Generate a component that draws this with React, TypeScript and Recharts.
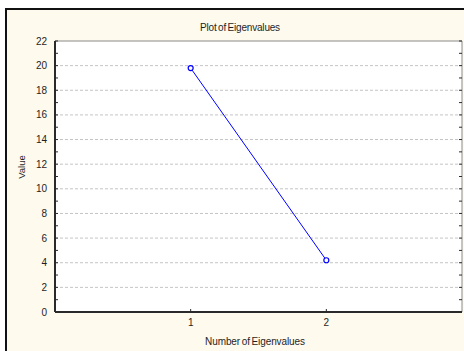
import React from 'react';
import { LineChart, Line, XAxis, YAxis, ReferenceLine, ReferenceArea } from 'recharts';

const eigenNumbers = [1, 2];
const eigenValues = [19.8, 4.2];
const xTicks = [1, 2];
const yTicks = [0, 1, 2, 3, 4, 5, 6, 7, 8, 9, 10, 11, 12, 13, 14, 15, 16, 17, 18, 19, 20, 21, 22];
const gridValues = [2, 4, 6, 8, 10, 12, 14, 16, 18, 20];
const xDomain = [0, 3];
const yDomain = [0, 22];

const data = eigenNumbers.map((n, i) => ({ n, value: eigenValues[i] }));

const FONT = '"Liberation Sans", Arial, sans-serif';
const TEXT = '#1e1e1e';
const AXIS = '#2a2a2a';

const LeftTick = (props: any) => {
  const { x, y, payload } = props;
  const v = payload.value;
  const major = v % 2 === 0;
  return (
    <g>
      <line x1={x} x2={x + 3} y1={y} y2={y} stroke={AXIS} strokeWidth={1} />
      {major && (
        <text x={x - 8} y={y} dy="0.35em" textAnchor="end" fontSize={10} fontFamily={FONT} fill={TEXT}>
          {v}
        </text>
      )}
    </g>
  );
};

const RightTick = (props: any) => {
  const { x, y } = props;
  return <line x1={x} x2={x - 3} y1={y} y2={y} stroke={AXIS} strokeWidth={1} />;
};

const BottomTick = (props: any) => {
  const { x, y, payload } = props;
  return (
    <g>
      <line x1={x} x2={x} y1={y} y2={y - 3} stroke={AXIS} strokeWidth={1} />
      <text x={x} y={y + 10} dy="0.35em" textAnchor="middle" fontSize={10} fontFamily={FONT} fill={TEXT}>
        {payload.value}
      </text>
    </g>
  );
};

const TopTick = (props: any) => {
  const { x, y } = props;
  return <line x1={x} x2={x} y1={y} y2={y + 3} stroke={AXIS} strokeWidth={1} />;
};

export default function App() {
  return (
    <div style={{ position: 'absolute', left: 0, top: 0, width: 464, height: 351, background: '#ffffff', overflow: 'hidden' }}>
      <div
        style={{
          position: 'absolute',
          left: 5,
          top: 8,
          width: 470,
          height: 360,
          background: '#fffaee',
          borderLeft: '2px solid #111',
          borderTop: '2px solid #111',
        }}
      />
      <div style={{ position: 'absolute', left: 0, top: 0 }}>
        <LineChart width={464} height={351} data={data} margin={{ top: 41, right: 0, bottom: 0, left: 0 }}>
          <XAxis
            xAxisId="b"
            dataKey="n"
            type="number"
            domain={xDomain}
            ticks={xTicks}
            interval={0}
            height={39}
            allowDataOverflow
            tickSize={0}
            tickMargin={0}
            tickLine={false}
            axisLine={{ stroke: AXIS, strokeWidth: 2 }}
            tick={<BottomTick />}
          />
          <XAxis
            xAxisId="t"
            orientation="top"
            dataKey="n"
            type="number"
            domain={xDomain}
            ticks={xTicks}
            interval={0}
            height={0}
            allowDataOverflow
            tickSize={0}
            tickMargin={0}
            tickLine={false}
            axisLine={false}
            tick={<TopTick />}
          />
          <YAxis
            yAxisId="l"
            type="number"
            domain={yDomain}
            ticks={yTicks}
            interval={0}
            width={55}
            allowDataOverflow
            tickSize={0}
            tickMargin={0}
            tickLine={false}
            axisLine={{ stroke: AXIS, strokeWidth: 2 }}
            tick={<LeftTick />}
          />
          <YAxis
            yAxisId="r"
            orientation="right"
            type="number"
            domain={yDomain}
            ticks={yTicks}
            interval={0}
            width={2}
            allowDataOverflow
            tickSize={0}
            tickMargin={0}
            tickLine={false}
            axisLine={false}
            tick={<RightTick />}
          />
          <ReferenceArea
            xAxisId="b"
            yAxisId="l"
            x1={xDomain[0]}
            x2={xDomain[1]}
            y1={yDomain[0]}
            y2={yDomain[1]}
            fill="#ffffff"
            fillOpacity={1}
            stroke="#8a8a8a"
            strokeWidth={1}
          />
          {gridValues.map((g) => (
            <ReferenceLine key={g} xAxisId="b" yAxisId="l" y={g} stroke="#c4c4c4" strokeDasharray="3 2" strokeWidth={1} />
          ))}
          <Line
            xAxisId="b"
            yAxisId="l"
            type="linear"
            dataKey="value"
            stroke="#0000ff"
            strokeWidth={1}
            dot={{ r: 2.5, fill: '#ffffff', stroke: '#0000ff', strokeWidth: 1.2 }}
            activeDot={false}
            isAnimationActive={false}
          />
        </LineChart>
      </div>
      <div
        style={{
          position: 'absolute',
          left: 140,
          width: 200,
          top: 22,
          textAlign: 'center',
          fontFamily: FONT,
          fontSize: 10,
          wordSpacing: -1,
          letterSpacing: -0.2,
          color: TEXT,
          lineHeight: '12px',
        }}
      >
        Plot of Eigenvalues
      </div>
      <div
        style={{
          position: 'absolute',
          left: 155,
          width: 200,
          top: 336,
          textAlign: 'center',
          fontFamily: FONT,
          fontSize: 10,
          wordSpacing: -1,
          letterSpacing: -0.1,
          color: TEXT,
          lineHeight: '12px',
        }}
      >
        Number of Eigenvalues
      </div>
      <div
        style={{
          position: 'absolute',
          left: 22,
          top: 167,
          width: 60,
          marginLeft: -30,
          marginTop: -6,
          textAlign: 'center',
          fontFamily: FONT,
          fontSize: 9.5,
          color: TEXT,
          lineHeight: '12px',
          transform: 'rotate(-90deg)',
        }}
      >
        Value
      </div>
    </div>
  );
}
